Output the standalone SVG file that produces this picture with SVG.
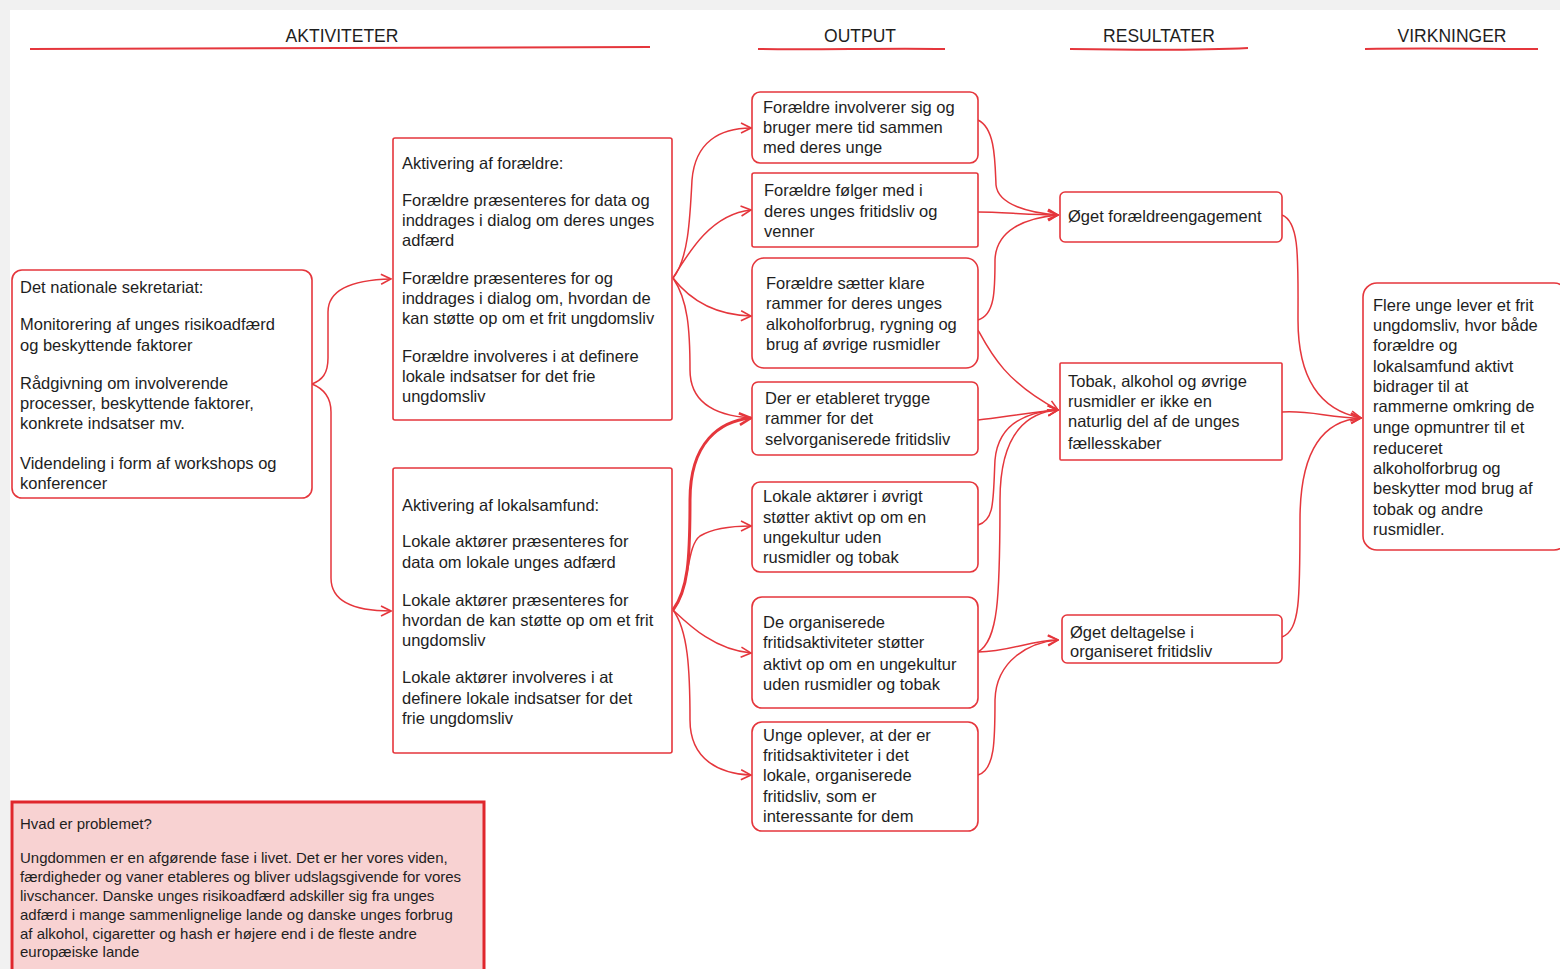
<svg xmlns="http://www.w3.org/2000/svg" width="1560" height="969" viewBox="0 0 1560 969">
<defs>
<style>
.bg{fill:#f1f1f1}
.panel{fill:#ffffff}
.box{fill:#ffffff;stroke:#e5363c;stroke-width:1.6}
.prob{fill:#f8d2d2;stroke:#e0262c;stroke-width:3}
.hdr{font-family:"Liberation Sans",Arial,sans-serif;font-size:17.5px;fill:#1e1e1e}
.ul{fill:none;stroke:#e5363c;stroke-width:2}
.t{font-family:"Liberation Sans",Arial,sans-serif;font-size:16.5px;fill:#1e1e1e}
.tp{font-family:"Liberation Sans",Arial,sans-serif;font-size:15px;fill:#1e1e1e}
.th{font-family:"Liberation Sans",Arial,sans-serif;font-size:15px;fill:#1e1e1e}
.c{fill:none;stroke:#e5363c;stroke-width:1.5}
.ck{fill:none;stroke:#e5363c;stroke-width:3}
</style>
<marker id="ah" viewBox="0 0 12 12" refX="11" refY="6" markerWidth="12" markerHeight="12" markerUnits="userSpaceOnUse" orient="auto">
<path d="M1,1 L11,6 L1,11" fill="none" stroke="#e5363c" stroke-width="1.6"/>
</marker>
<marker id="ahk" viewBox="0 0 12 12" refX="11" refY="6" markerWidth="14" markerHeight="14" markerUnits="userSpaceOnUse" orient="auto">
<path d="M1,1 L11,6 L1,11" fill="none" stroke="#e5363c" stroke-width="2.2"/>
</marker>
</defs>
<rect class="bg" x="0" y="0" width="1560" height="969"/>
<rect class="panel" x="10" y="10" width="1550" height="959"/>

<g id="headers">
<text class="hdr" x="342" y="42" text-anchor="middle">AKTIVITETER</text>
<path class="ul" d="M30,49 C200,50 400,48 650,47"/>
<text class="hdr" x="860" y="42" text-anchor="middle">OUTPUT</text>
<path class="ul" d="M758,49 C820,50 880,48 945,49"/>
<text class="hdr" x="1159" y="42" text-anchor="middle">RESULTATER</text>
<path class="ul" d="M1070,49 C1130,50 1190,51 1248,48"/>
<text class="hdr" x="1452" y="42" text-anchor="middle">VIRKNINGER</text>
<path class="ul" d="M1365,49 C1420,48 1480,49 1538,49"/>
</g>

<g id="connectors">
<path class="c" marker-end="url(#ah)" d="M312,384 C322,380 328,374 328,358 L328,312 C328,290 350,280 391,279"/>
<path class="c" marker-end="url(#ah)" d="M312,384 C322,388 331,396 331,412 L331,578 C331,600 352,611 391,611"/>

<path class="c" marker-end="url(#ah)" d="M673,278 C688,260 690,220 692,180 C695,142 720,128 751,128"/>
<path class="c" marker-end="url(#ah)" d="M673,278 C690,250 712,214 751,210"/>
<path class="c" marker-end="url(#ah)" d="M673,278 C690,300 715,315 751,316"/>
<path class="c" d="M673,278 C688,300 690,330 690,370 C690,405 720,416 751,418"/>

<path class="ck" marker-end="url(#ahk)" d="M673,610 C688,590 690,560 690,500 C690,442 720,421 751,418"/>
<path class="c" marker-end="url(#ah)" d="M673,610 C690,590 686,546 700,536 C715,527 735,526 751,526"/>
<path class="c" marker-end="url(#ah)" d="M673,610 C690,626 715,650 751,653"/>
<path class="c" marker-end="url(#ah)" d="M673,610 C688,630 690,670 690,720 C690,760 720,774 751,775"/>

<path class="c" marker-end="url(#ah)" d="M978,120 C995,128 995,160 996,185 C998,205 1030,213 1058,215"/>
<path class="c" marker-end="url(#ah)" d="M978,212 C1000,212 1030,215 1058,215"/>
<path class="c" marker-end="url(#ah)" d="M978,320 C995,315 995,290 995,260 C996,230 1025,218 1058,215"/>
<path class="c" marker-end="url(#ah)" d="M978,330 C990,352 1005,382 1058,410"/>
<path class="c" marker-end="url(#ah)" d="M978,420 C1000,418 1030,412 1058,410"/>
<path class="c" marker-end="url(#ah)" d="M978,525 C995,520 993,500 995,460 C998,425 1025,412 1058,410"/>
<path class="c" marker-end="url(#ah)" d="M978,652 C998,640 1000,600 1000,500 C1000,430 1030,412 1058,410"/>
<path class="c" marker-end="url(#ah)" d="M978,652 C1010,652 1030,640 1058,640"/>
<path class="c" marker-end="url(#ah)" d="M978,775 C995,770 995,740 995,700 C996,660 1030,642 1058,640"/>

<path class="c" marker-end="url(#ah)" d="M1282,215 C1300,222 1298,260 1298,320 C1298,390 1330,412 1361,418"/>
<path class="c" marker-end="url(#ah)" d="M1282,412 C1310,410 1330,418 1361,418"/>
<path class="c" marker-end="url(#ah)" d="M1282,637 C1300,630 1300,600 1300,520 C1300,440 1330,420 1361,418"/>
</g>

<g id="national">
<rect class="box" x="12" y="270" width="300" height="228" rx="10"/>
<text class="t" x="20" y="293">Det nationale sekretariat:</text>
<text class="t" x="20" y="330">Monitorering af unges risikoadfærd</text>
<text class="t" x="20" y="351">og beskyttende faktorer</text>
<text class="t" x="20" y="389">Rådgivning om involverende</text>
<text class="t" x="20" y="409">processer, beskyttende faktorer,</text>
<text class="t" x="20" y="429">konkrete indsatser mv.</text>
<text class="t" x="20" y="469">Videndeling i form af workshops og</text>
<text class="t" x="20" y="489">konferencer</text>
</g>

<g id="aktivering-foraeldre">
<rect class="box" x="393" y="138" width="279" height="282" rx="2"/>
<text class="t" x="402" y="169">Aktivering af forældre:</text>
<text class="t" x="402" y="206">Forældre præsenteres for data og</text>
<text class="t" x="402" y="226">inddrages i dialog om deres unges</text>
<text class="t" x="402" y="246">adfærd</text>
<text class="t" x="402" y="284">Forældre præsenteres for og</text>
<text class="t" x="402" y="304">inddrages i dialog om, hvordan de</text>
<text class="t" x="402" y="324">kan støtte op om et frit ungdomsliv</text>
<text class="t" x="402" y="362">Forældre involveres i at definere</text>
<text class="t" x="402" y="382">lokale indsatser for det frie</text>
<text class="t" x="402" y="402">ungdomsliv</text>
</g>

<g id="aktivering-lokalsamfund">
<rect class="box" x="393" y="468" width="279" height="285" rx="2"/>
<text class="t" x="402" y="511">Aktivering af lokalsamfund:</text>
<text class="t" x="402" y="547">Lokale aktører præsenteres for</text>
<text class="t" x="402" y="568">data om lokale unges adfærd</text>
<text class="t" x="402" y="606">Lokale aktører præsenteres for</text>
<text class="t" x="402" y="626">hvordan de kan støtte op om et frit</text>
<text class="t" x="402" y="646">ungdomsliv</text>
<text class="t" x="402" y="683">Lokale aktører involveres i at</text>
<text class="t" x="402" y="704">definere lokale indsatser for det</text>
<text class="t" x="402" y="724">frie ungdomsliv</text>
</g>

<g id="output1">
<rect class="box" x="752" y="92" width="226" height="71" rx="8"/>
<text class="t" x="763" y="113">Forældre involverer sig og</text>
<text class="t" x="763" y="133">bruger mere tid sammen</text>
<text class="t" x="763" y="153">med deres unge</text>
</g>
<g id="output2">
<rect class="box" x="752" y="173" width="226" height="74" rx="2"/>
<text class="t" x="764" y="196">Forældre følger med i</text>
<text class="t" x="764" y="217">deres unges fritidsliv og</text>
<text class="t" x="764" y="237">venner</text>
</g>
<g id="output3">
<rect class="box" x="752" y="258" width="226" height="110" rx="12"/>
<text class="t" x="766" y="289">Forældre sætter klare</text>
<text class="t" x="766" y="309">rammer for deres unges</text>
<text class="t" x="766" y="330">alkoholforbrug, rygning og</text>
<text class="t" x="766" y="350">brug af øvrige rusmidler</text>
</g>
<g id="output4">
<rect class="box" x="752" y="382" width="226" height="73" rx="6"/>
<text class="t" x="765" y="404">Der er etableret trygge</text>
<text class="t" x="765" y="424">rammer for det</text>
<text class="t" x="765" y="445">selvorganiserede fritidsliv</text>
</g>
<g id="output5">
<rect class="box" x="752" y="482" width="226" height="90" rx="8"/>
<text class="t" x="763" y="502">Lokale aktører i øvrigt</text>
<text class="t" x="763" y="523">støtter aktivt op om en</text>
<text class="t" x="763" y="543">ungekultur uden</text>
<text class="t" x="763" y="563">rusmidler og tobak</text>
</g>
<g id="output6">
<rect class="box" x="752" y="597" width="226" height="111" rx="10"/>
<text class="t" x="763" y="628">De organiserede</text>
<text class="t" x="763" y="648">fritidsaktiviteter støtter</text>
<text class="t" x="763" y="670">aktivt op om en ungekultur</text>
<text class="t" x="763" y="690">uden rusmidler og tobak</text>
</g>
<g id="output7">
<rect class="box" x="752" y="722" width="226" height="109" rx="10"/>
<text class="t" x="763" y="741">Unge oplever, at der er</text>
<text class="t" x="763" y="761">fritidsaktiviteter i det</text>
<text class="t" x="763" y="781">lokale, organiserede</text>
<text class="t" x="763" y="802">fritidsliv, som er</text>
<text class="t" x="763" y="822">interessante for dem</text>
</g>

<g id="result1">
<rect class="box" x="1060" y="192" width="222" height="50" rx="5"/>
<text class="t" x="1068" y="222">Øget forældreengagement</text>
</g>
<g id="result2">
<rect class="box" x="1060" y="363" width="222" height="97" rx="1"/>
<text class="t" x="1068" y="387">Tobak, alkohol og øvrige</text>
<text class="t" x="1068" y="407">rusmidler er ikke en</text>
<text class="t" x="1068" y="427">naturlig del af de unges</text>
<text class="t" x="1068" y="449">fællesskaber</text>
</g>
<g id="result3">
<rect class="box" x="1062" y="615" width="220" height="48" rx="5"/>
<text class="t" x="1070" y="638">Øget deltagelse i</text>
<text class="t" x="1070" y="657">organiseret fritidsliv</text>
</g>

<g id="virkninger">
<rect class="box" x="1363" y="283" width="205" height="267" rx="14"/>
<text class="t" x="1373" y="311">Flere unge lever et frit</text>
<text class="t" x="1373" y="331">ungdomsliv, hvor både</text>
<text class="t" x="1373" y="351">forældre og</text>
<text class="t" x="1373" y="372">lokalsamfund aktivt</text>
<text class="t" x="1373" y="392">bidrager til at</text>
<text class="t" x="1373" y="412">rammerne omkring de</text>
<text class="t" x="1373" y="433">unge opmuntrer til et</text>
<text class="t" x="1373" y="454">reduceret</text>
<text class="t" x="1373" y="474">alkoholforbrug og</text>
<text class="t" x="1373" y="494">beskytter mod brug af</text>
<text class="t" x="1373" y="515">tobak og andre</text>
<text class="t" x="1373" y="535">rusmidler.</text>
</g>

<g id="problem">
<rect class="prob" x="12" y="802" width="472" height="180"/>
<text class="th" x="20" y="829">Hvad er problemet?</text>
<text class="tp" x="20" y="863">Ungdommen er en afgørende fase i livet. Det er her vores viden,</text>
<text class="tp" x="20" y="882">færdigheder og vaner etableres og bliver udslagsgivende for vores</text>
<text class="tp" x="20" y="901">livschancer. Danske unges risikoadfærd adskiller sig fra unges</text>
<text class="tp" x="20" y="920">adfærd i mange sammenlignelige lande og danske unges forbrug</text>
<text class="tp" x="20" y="939">af alkohol, cigaretter og hash er højere end i de fleste andre</text>
<text class="tp" x="20" y="957">europæiske lande</text>
</g>
</svg>
